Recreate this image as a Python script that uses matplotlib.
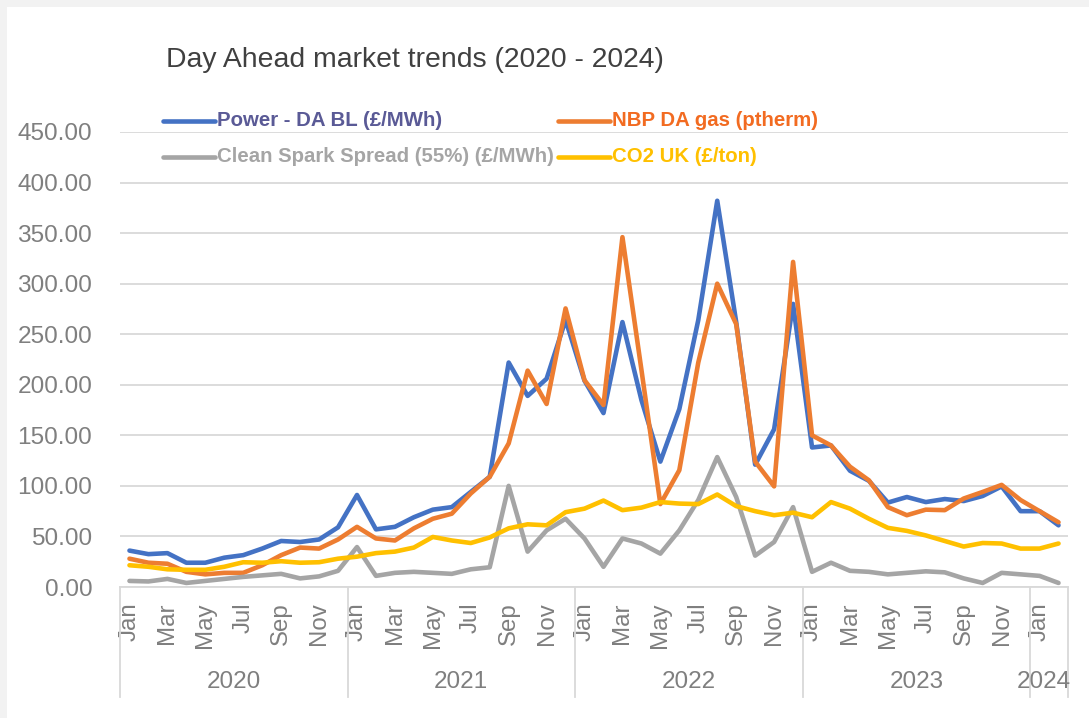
import matplotlib
matplotlib.use("Agg")
import matplotlib.pyplot as plt
from matplotlib.lines import Line2D
from matplotlib.patches import Rectangle
from matplotlib.transforms import blended_transform_factory

plt.rcParams['font.family'] = ['Liberation Sans', 'DejaVu Sans']

# ---------------- data ----------------
years = ['2020', '2021', '2022', '2023', '2024']
month_names = ['Jan', 'Feb', 'Mar', 'Apr', 'May', 'Jun',
               'Jul', 'Aug', 'Sep', 'Oct', 'Nov', 'Dec']
months_per_year = [12, 12, 12, 12, 2]

power = [36, 32.5, 33.5, 24, 24, 29, 31.5, 38, 45.5, 44.5, 47, 59,
         91, 57, 59.5, 69, 76.5, 79, 94, 109, 222, 189, 206, 264,
         204, 172, 262, 185, 124, 176, 264, 382, 262, 121, 156, 280,
         138, 140, 115, 105, 83.5, 89, 84, 87, 85, 90, 99.5, 75,
         75, 61]
gas = [28, 24, 23, 15, 12.5, 14, 14, 21.5, 31.5, 39, 38, 47,
       59.5, 48, 46, 58, 67.5, 72.5, 92.5, 109, 142, 214, 181, 275.5,
       204.5, 180, 346, 215, 82, 115.5, 222, 300, 260, 124, 99.5, 321.5,
       150, 140, 119, 105.5, 79, 71, 76.5, 76, 87.5, 94, 101, 86,
       75, 64]
spread = [6, 5.5, 8, 4, 6, 8, 10, 11.5, 13, 8.5, 10.5, 16,
          39.5, 11, 14, 15, 14, 13, 17.5, 19.5, 100, 35, 56, 67.5,
          48, 20, 48, 43, 33, 56, 86, 128.5, 89, 31, 44.5, 79,
          15, 24, 16, 15, 12.5, 14, 15.5, 14.5, 8.5, 4, 14, 12.5,
          11, 4]
co2 = [21.5, 20, 17.5, 17, 17, 20, 24.5, 24, 25.5, 24, 24.5, 28,
       30, 33.5, 35, 39, 49.5, 46, 43.5, 49, 58, 62, 61, 74,
       77.5, 85.5, 76, 78.5, 84, 82.5, 82, 91.5, 80, 75, 71, 73.5,
       69, 84, 77.5, 67.5, 58.5, 55.5, 51, 45.5, 40, 43.5, 43, 38,
       38, 43]

series_labels = ['Power - DA BL (£/MWh)', 'NBP DA gas (ptherm)',
                 'Clean Spark Spread (55%) (£/MWh)', 'CO2 UK (£/ton)']
line_colors = ['#4472C4', '#ED7D31', '#A5A5A5', '#FFC000']
text_colors = ['#5A5A96', '#F26B21', '#A5A5A5', '#FFC000']

# ---------------- figure ----------------
W, H = 1089, 718
fig = plt.figure(figsize=(W / 100, H / 100), dpi=100, facecolor='#F2F2F2')
fig.add_artist(Rectangle((7 / W, 0), 1 - 7 / W, 1 - 7 / H,
                         transform=fig.transFigure, facecolor='white',
                         edgecolor='none', zorder=0))

def fx(px):
    return px / W

def fy(py):
    return 1 - py / H

ax_left, ax_right, ax_top, ax_bot = 120, 1068, 132, 587
ax = fig.add_axes([fx(ax_left), fy(ax_bot), fx(ax_right - ax_left),
                   (ax_bot - ax_top) / H])
ax.set_facecolor('none')

n = len(power)
x = list(range(n))
for vals, col in zip([power, gas, spread, co2], line_colors):
    ax.plot(x, vals, color=col, lw=3.3, solid_joinstyle='round',
            solid_capstyle='round', zorder=3)

ax.set_xlim(-0.5, n - 0.5)
ax.set_ylim(0, 450)
ax.set_yticks(range(0, 451, 50))
ax.set_yticklabels([f'{v:.2f}' for v in range(0, 451, 50)])
ax.yaxis.grid(True, color='#D9D9D9', lw=1.3)
ax.set_axisbelow(True)
for s in ['left', 'right', 'top']:
    ax.spines[s].set_visible(False)
ax.spines['bottom'].set_color('#D9D9D9')
ax.spines['bottom'].set_linewidth(1.3)
ax.tick_params(axis='y', length=0, pad=20, labelsize=17.6, labelcolor='#7F7F7F')

# month ticks (every other month)
month_seq = []
for y_i, cnt in enumerate(months_per_year):
    month_seq += month_names[:cnt]
tick_pos = list(range(0, n, 2))
ax.set_xticks(tick_pos)
ax.set_xticklabels([month_seq[i] for i in tick_pos], rotation=90,
                   va='top', ha='center')
ax.tick_params(axis='x', length=0, pad=11, labelsize=17.3, labelcolor='#7F7F7F')

# year group labels and separators
trans = blended_transform_factory(ax.transData, fig.transFigure)
start = 0
bounds = [-0.5]
for yr, cnt in zip(years, months_per_year):
    center = start + (cnt - 1) / 2
    if cnt < 12:
        center -= 0.3
    ax.text(center, fy(682), yr, transform=trans, ha='center', va='center',
            fontsize=17.5, color='#7F7F7F')
    start += cnt
    bounds.append(start - 0.5)
for b in bounds:
    ax.add_line(Line2D([b, b], [fy(697), fy(ax_bot)], transform=trans,
                       color='#D9D9D9', lw=1.3, clip_on=False))

# title
fig.text(fx(166), fy(60), 'Day Ahead market trends (2020 - 2024)',
         fontsize=20.4, color='#404040', ha='left', va='center')

# legend (manual, Excel style)
leg_pos = [(163, 121), (558, 121), (163, 157), (558, 157)]
for (lx, ly), lab, lc, tc in zip(leg_pos, series_labels, line_colors, text_colors):
    fig.add_artist(Line2D([fx(lx), fx(lx + 52)], [fy(ly), fy(ly)],
                          transform=fig.transFigure, color=lc, lw=3.3,
                          solid_capstyle='round'))
    fig.text(fx(lx + 54), fy(ly), lab, fontsize=14.7, fontweight='bold',
             color=tc, ha='left', va='center')

fig.savefig('out.png', dpi=100, facecolor=fig.get_facecolor())
